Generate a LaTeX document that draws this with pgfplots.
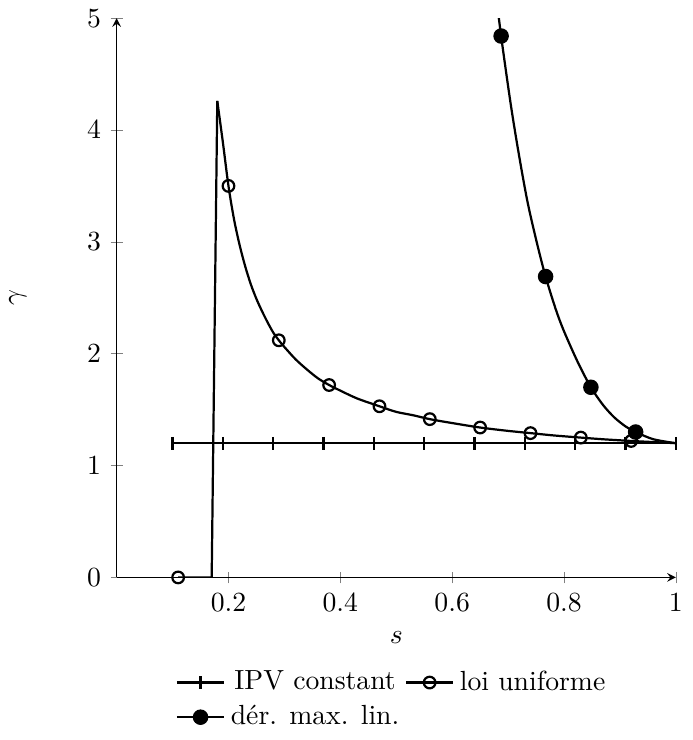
\documentclass[border=0pt]{standalone}
\usepackage{pgfplots}
\pgfplotsset{compat=1.18}
\begin{document}
\begin{tikzpicture}
\begin{axis}[
  scale only axis,
  width=202pt, height=202pt,
  axis lines=left,
  xmin=0, xmax=1, ymin=0, ymax=5,
  xtick={0.2,0.4,0.6,0.8,1},
  xticklabels={0.2,0.4,0.6,0.8,1},
  ytick={0,1,2,3,4,5},
  xlabel={$s$}, ylabel={$\gamma$},
  ylabel shift=15pt,
  legend columns=2,
  legend style={draw=none, at={(0.09,-0.146)}, anchor=north west},
  clip=true,
]
% IPV constant
\addplot[thick, black, mark=|, mark size=2.3pt] coordinates {
(0.10,1.2) (0.19,1.2) (0.28,1.2) (0.37,1.2) (0.46,1.2) (0.55,1.2)
(0.64,1.2) (0.73,1.2) (0.82,1.2) (0.91,1.2) (1.00,1.2)};
\addlegendentry{IPV constant}
% loi uniforme: line
\addplot[thick, black, forget plot] coordinates {
(0.11,0) (0.17,0) (0.18,4.26)};
\addplot[thick, black, smooth, forget plot] coordinates {
(0.18,4.26) (0.19,3.89) (0.20,3.50) (0.21,3.20) (0.22,2.97) (0.23,2.78)
(0.24,2.62) (0.25,2.49) (0.26,2.38) (0.27,2.28) (0.28,2.19) (0.29,2.12)
(0.30,2.06) (0.32,1.95) (0.34,1.86) (0.36,1.78) (0.38,1.72) (0.40,1.67)
(0.43,1.60) (0.47,1.53) (0.50,1.48) (0.53,1.45) (0.56,1.415) (0.60,1.38)
(0.65,1.34) (0.70,1.31) (0.74,1.29) (0.78,1.27) (0.83,1.25) (0.87,1.235)
(0.92,1.22) (0.96,1.21) (1.00,1.20)};
% loi uniforme: marks
\addplot[thick, black, only marks, mark=o, mark size=2.1pt, forget plot] coordinates {
(0.11,0) (0.20,3.50) (0.29,2.12) (0.38,1.72) (0.47,1.53) (0.56,1.415)
(0.65,1.34) (0.74,1.29) (0.83,1.25) (0.92,1.22)};
\addlegendimage{thick, black, mark=o, mark size=2.1pt}
\addlegendentry{loi uniforme}
% der. max. lin.: line
\addplot[thick, black, smooth, forget plot] coordinates {
(0.675,5.35) (0.6875,4.84) (0.705,4.22) (0.72,3.76) (0.735,3.35) (0.752,2.98) (0.767,2.69) (0.785,2.40) (0.80,2.20)
(0.825,1.92) (0.848,1.70) (0.87,1.54) (0.89,1.43) (0.91,1.35) (0.928,1.30) (0.96,1.235) (1.00,1.20)};
\addplot[thick, black, only marks, mark=*, mark size=2.4pt, forget plot] coordinates {
(0.6875,4.84) (0.767,2.69) (0.848,1.70) (0.928,1.30)};
\addlegendimage{thick, black, mark=*, mark size=2.4pt}
\addlegendentry{dér. max. lin.}
\end{axis}
\end{tikzpicture}
\end{document}
